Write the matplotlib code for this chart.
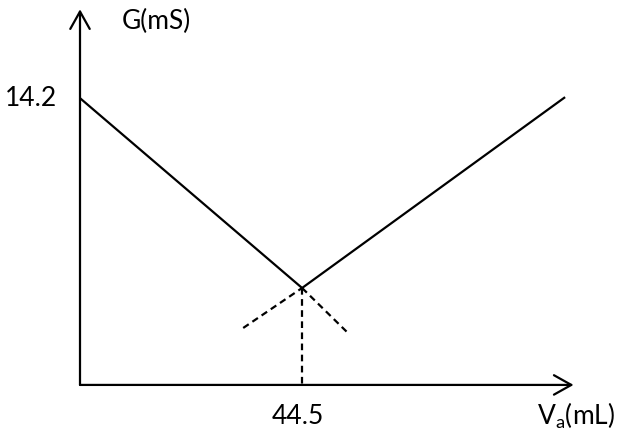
import matplotlib
matplotlib.use("Agg")
import matplotlib.pyplot as plt

plt.rcParams["font.family"] = ["Lato", "DejaVu Sans"]
plt.rcParams["mathtext.default"] = "regular"

# data (x = V_a in mL, y = G in mS)
x_down = [0, 44.5]
g_down = [14.2, 4.8]
x_up = [44.5, 97.2]
g_up = [4.8, 14.25]
x_down_ext = [44.5, 53.7]
g_down_ext = [4.8, 2.57]
x_up_ext = [32.7, 44.5]
g_up_ext = [2.82, 4.8]
x_eq = 44.5
g_start = 14.2

fig = plt.figure(figsize=(6.2, 4.34), dpi=100)
ax = fig.add_axes([0, 0, 1, 1])
ax.set_xlim(-16.03, 108.2)
ax.set_ylim(-2.43, 19.06)
ax.axis("off")

lw = 1.6
# axes with open arrow heads
arr = dict(arrowstyle="->,head_length=1.25,head_width=0.7", lw=lw, color="black",
           shrinkA=0, shrinkB=0)
ax.annotate("", xy=(0, 18.6), xytext=(0, 0), arrowprops=arr)
ax.annotate("", xy=(98.9, 0), xytext=(0, 0), arrowprops=arr)

ax.plot(x_down, g_down, color="black", lw=lw, solid_capstyle="butt")
ax.plot(x_up, g_up, color="black", lw=lw, solid_capstyle="butt")
ax.plot(x_down_ext, g_down_ext, color="black", lw=lw, ls=(0, (3, 2)))
ax.plot(x_up_ext, g_up_ext, color="black", lw=lw, ls=(0, (3, 2)))
ax.plot([x_eq, x_eq], [g_down[1], 0], color="black", lw=lw, ls=(0, (3, 2)))

fs = 19
ax.text(-9.8, g_start, "14.2", fontsize=fs, ha="center", va="center")
ax.text(x_eq - 0.8, -1.55, "44.5", fontsize=fs, ha="center", va="center")
ax.text(8.4, 18.0, "G(mS)", fontsize=fs, ha="left", va="center")
ax.text(91.6, -1.55, "V$_{a}$(mL)", fontsize=fs, ha="left", va="center")

fig.savefig("out.png", dpi=100)
